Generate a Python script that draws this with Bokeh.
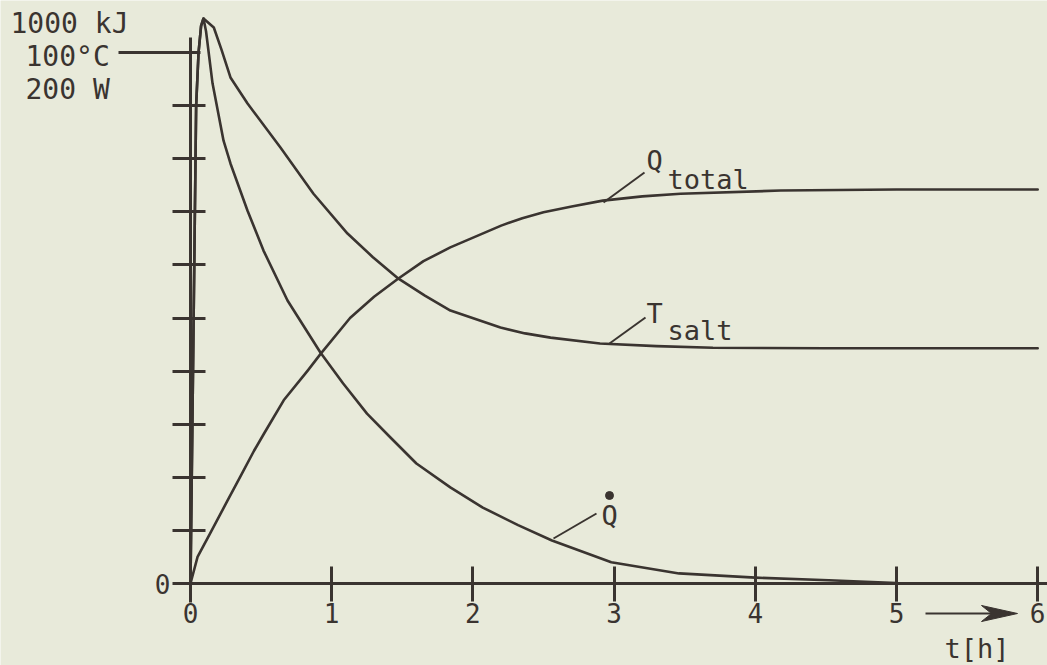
from bokeh.plotting import figure
from bokeh.models import LinearAxis, FixedTicker, Range1d
from bokeh.embed import file_html
from bokeh.resources import INLINE
from bokeh.core.properties import value

# ---------------- data ----------------
# time axis in hours; y in units of one tick (10 °C / 100 kJ / 20 W)
salt_t = [0, 0.02, 0.04, 0.057, 0.075, 0.092, 0.165, 0.22, 0.283, 0.404, 0.637, 0.871,
          1.112, 1.29, 1.473, 1.66, 1.841, 2.195, 2.37, 2.55, 2.90, 3.30, 3.70, 4.50, 5.20, 6.0]
salt_y = [0, 4.5, 9.0, 10.0, 10.5, 10.64, 10.47, 10.05, 9.53, 9.04, 8.21, 7.34,
          6.59, 6.15, 5.74, 5.42, 5.14, 4.82, 4.71, 4.63, 4.52, 4.47, 4.44, 4.43, 4.43, 4.43]

qdot_t = [0, 0.02, 0.04, 0.057, 0.075, 0.092, 0.11, 0.156, 0.234, 0.283, 0.404, 0.517,
          0.687, 0.92, 1.08, 1.25, 1.416, 1.60, 1.84, 2.07, 2.32, 2.56, 2.98, 3.46,
          4.0, 4.52, 5.0, 6.0]
qdot_y = [0, 4.5, 9.0, 10.0, 10.5, 10.64, 10.4, 9.42, 8.34, 7.91, 7.02, 6.27,
          5.33, 4.35, 3.77, 3.20, 2.75, 2.26, 1.81, 1.43, 1.10, 0.81, 0.40, 0.19,
          0.11, 0.06, 0.01, 0.0]

qtot_t = [0, 0.05, 0.14, 0.26, 0.35, 0.45, 0.52, 0.66, 0.83, 0.92, 1.13, 1.30, 1.47, 1.65,
          1.84, 2.2, 2.35, 2.5, 2.7, 2.92, 3.2, 3.47, 4.18, 5.0, 6.0]
qtot_y = [0, 0.5, 0.95, 1.55, 2.0, 2.5, 2.82, 3.45, 4.01, 4.32, 5.0, 5.40, 5.74, 6.07,
          6.33, 6.74, 6.88, 6.99, 7.10, 7.21, 7.29, 7.34, 7.40, 7.42, 7.42]

x_ticks = [0, 1, 2, 3, 4, 5, 6]
x_tick_labels = ["0", "1", "2", "3", "4", "5", "6"]
y_ticks = [0, 1, 2, 3, 4, 5, 6, 7, 8, 9]
y_top = 10
y_unit_labels = ["1000 kJ", "100°C", "200 W"]
x_title = "t[h]"

# ---------------- layout helpers ----------------
BG = "#e8eada"
INK = "#3a3430"
FONT = "DejaVu Sans Mono"
W, H = 1047, 665
SX = 141.2          # px per hour
SY = 53.1           # px per y unit
ORIGIN_X, ORIGIN_Y = 190, 583   # pixels of the origin
X0 = -ORIGIN_X / SX
X1 = X0 + W / SX
Y1 = ORIGIN_Y / SY
Y0 = Y1 - H / SY
TXT_SHIFT = 9       # text glyphs render a little low: lift baselines


def dx(px):
    return (px - ORIGIN_X) / SX


def dy(py):
    return (ORIGIN_Y - py) / SY


def ty(py):
    return dy(py - TXT_SHIFT)


p = figure(width=W, height=H, x_range=Range1d(X0, X1), y_range=Range1d(Y0, Y1),
           output_backend="svg", toolbar_location=None,
           x_axis_location=None, y_axis_location=None, min_border=0,
           background_fill_color=BG, border_fill_color=BG, outline_line_color=None)
p.grid.grid_line_color = None

xaxis = LinearAxis(fixed_location=0, ticker=FixedTicker(ticks=x_ticks),
                   bounds=(dx(173), X1),
                   major_label_overrides={t: l for t, l in zip(x_ticks, x_tick_labels)},
                   axis_line_width=3, axis_line_color=INK,
                   major_tick_in=17, major_tick_out=18, major_tick_line_width=3,
                   major_tick_line_color=INK, minor_tick_line_color=None,
                   major_label_text_font=FONT, major_label_text_font_size="26px",
                   major_label_text_color=INK, major_label_standoff=1)
p.add_layout(xaxis, "below")

yaxis = LinearAxis(fixed_location=0, ticker=FixedTicker(ticks=y_ticks),
                   bounds=(dy(602), dy(37)),
                   major_label_overrides={t: ("0" if t == 0 else "") for t in y_ticks},
                   axis_line_width=3, axis_line_color=INK,
                   major_tick_in=15, major_tick_out=18, major_tick_line_width=3,
                   major_tick_line_color=INK, minor_tick_line_color=None,
                   major_label_text_font=FONT, major_label_text_font_size="26px",
                   major_label_text_color=INK, major_label_standoff=2)
p.add_layout(yaxis, "left")

# long reference tick at 100 °C
p.segment(x0=[dx(118)], y0=[y_top], x1=[dx(200)], y1=[y_top], line_color=INK, line_width=3)

# curves
for xs, ys in ((salt_t, salt_y), (qdot_t, qdot_y), (qtot_t, qtot_y)):
    p.line(xs, ys, line_color=INK, line_width=2.6, line_join="round", line_cap="round")

# unit labels top left
p.text(x=[dx(10), dx(25), dx(25)], y=[ty(32), ty(65), ty(98)], text=y_unit_labels,
       text_font=value(FONT), text_font_size="28px", text_color=INK,
       text_baseline="alphabetic", text_align="left")

# curve labels with leader lines
p.segment(x0=[dx(603), dx(609), dx(553)], y0=[dy(202), dy(343), dy(538)],
          x1=[dx(644), dx(645), dx(596)], y1=[dy(172), dy(317), dy(513)],
          line_color=INK, line_width=2)
p.text(x=[dx(646), dx(646), dx(601)], y=[ty(169), ty(322), ty(524)], text=["Q", "T", "Q"],
       text_font=value(FONT), text_font_size="27px", text_color=INK,
       text_baseline="alphabetic", text_align="left")
p.text(x=[dx(667), dx(667)], y=[ty(188), ty(339)], text=["total", "salt"],
       text_font=value(FONT), text_font_size="27px", text_color=INK,
       text_baseline="alphabetic", text_align="left")
p.scatter(x=[dx(609)], y=[dy(495)], size=8, color=INK)

# time arrow and axis title
p.segment(x0=[dx(925)], y0=[dy(613)], x1=[dx(995)], y1=[dy(613)], line_color=INK, line_width=2)
p.patch(x=[dx(981), dx(1017), dx(981), dx(991)], y=[dy(605), dy(613), dy(621), dy(613)],
        fill_color=INK, line_color=INK, line_width=1)
p.text(x=[dx(944)], y=[ty(657)], text=[x_title],
       text_font=value(FONT), text_font_size="27px", text_color=INK,
       text_baseline="alphabetic", text_align="left")

open("out.html", "w").write(file_html(p, INLINE))
